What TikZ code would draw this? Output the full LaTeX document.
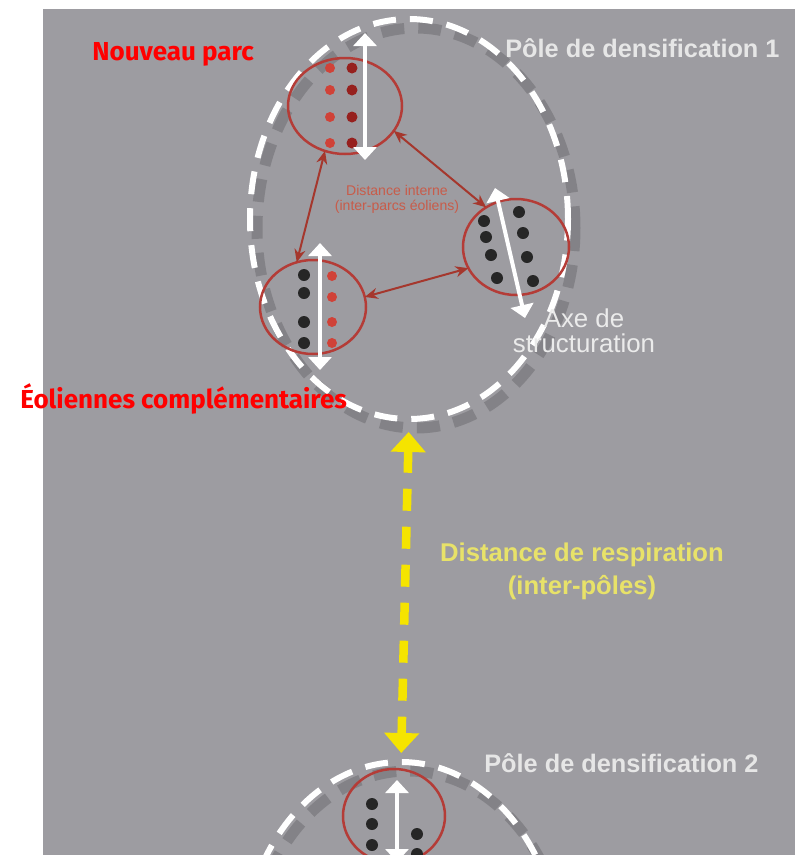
\documentclass[tikz,border=0pt]{standalone}
\usepackage{fontspec}
\setmainfont{Liberation Sans}
\newfontfamily\titrefont{Fira Sans}
\usetikzlibrary{shapes.geometric,arrows.meta}
\definecolor{fond}{RGB}{157,156,161}
\definecolor{rougeparc}{RGB}{180,60,55}
\definecolor{rougefleche}{RGB}{165,55,45}
\definecolor{rougepoint}{RGB}{208,66,56}
\definecolor{rougefonce}{RGB}{150,32,30}
\definecolor{rougedist}{RGB}{200,92,74}
\definecolor{jaune}{RGB}{245,228,0}
\definecolor{jaunetexte}{RGB}{232,226,105}
\definecolor{blanccasse}{RGB}{230,230,230}
\begin{document}
\begin{tikzpicture}[x=0.2mm,y=-0.2mm,
	pole/.style={ellipse,draw=white,line width=1.2mm,dash pattern=on 4.6mm off 2.8mm,
		minimum width=63.6mm,minimum height=80mm,inner sep=0pt,outer sep=0pt},
	ombre/.style={black,opacity=0.16,line width=2.2mm,dash pattern=on 4.6mm off 2.8mm},
	parc/.style={ellipse,draw=rougeparc,line width=0.5mm,minimum width=21.2mm,
		minimum height=19mm,inner sep=0pt,outer sep=0pt},
	liaison/.style={rougefleche,line width=0.4mm,
		{Stealth[length=2.6mm,width=2.2mm]}-{Stealth[length=2.6mm,width=2.2mm]}},
	axe/.style={white,line width=0.8mm,
		{Triangle[length=2.6mm,width=4.6mm]}-{Triangle[length=2.6mm,width=4.6mm]}},
	respiration/.style={jaune,line width=1.7mm,dash pattern=on 4.4mm off 3.2mm,
		shorten <=2.6mm,shorten >=1.8mm,
		{Triangle[length=4mm,width=6.8mm]}-{Triangle[length=4mm,width=6.8mm]}},
	titre/.style={text=red,font=\titrefont\bfseries\fontsize{14.8}{16}\selectfont,inner sep=0pt},
	nompole/.style={text=blanccasse,font=\bfseries\fontsize{14.4}{17}\selectfont,inner sep=0pt}]
	\useasboundingbox (0,0) rectangle (795,855);
	\clip (0,0) rectangle (795,855);
	%Fond
	\fill[white] (0,0) rectangle (795,855);
	\fill[fond] (43,9) rectangle (795,855);
	%Les deux pôles
	\draw[ombre] (416,228) ellipse [x radius=159,y radius=200];
	\draw[ombre] (408,971) ellipse [x radius=159,y radius=200];
	\node[pole] (pole1) at (409,219) {};
	\node[pole] (pole2) at (401,962) {};
	\draw[respiration] (pole1.south) -- (pole2.north);
	%Les parcs
	\node[parc,minimum width=22.8mm,minimum height=19.2mm] (parc1) at (345,106) {};
	\node[parc,minimum height=18.8mm] (parc2) at (313,307) {};
	\node[parc,minimum height=19.2mm] (parc3) at (516,247) {};
	\node[parc,minimum width=20.4mm,minimum height=18.8mm] (parc4) at (394,816) {};
	% Éoliennes
	\foreach \y in {68,90,117,143}{
		\fill[rougepoint] (330,\y) circle (5);
		\fill[rougefonce] (352,\y) circle (5.5);}
	\foreach \y in {275,293,322,343}
		\fill[black!85] (304,\y) circle (6);
	\foreach \y in {276,297,322,343}
		\fill[rougepoint] (332,\y) circle (5);
	\foreach \x/\y in {484/221,486/237,491/255,497/278,519/212,523/233,527/257,533/281}
		\fill[black!85] (\x,\y) circle (6);
	\foreach \x/\y in {372/804,372/824,372/845,417/834,417/854}
		\fill[black!85] (\x,\y) circle (6);
	%Textes
	\node[titre,anchor=base west] (nouveau) at (92,60) {Nouveau parc};
	\node[titre,anchor=base west] (complement) at (20,408) {Éoliennes complémentaires};
	\node[nompole,anchor=base west] (nom1) at (505,57) {Pôle de densification 1};
	\node[nompole,anchor=base west] (nom2) at (484,772) {Pôle de densification 2};
	\node[text=white!92!black,font=\fontsize{14.7}{14.5}\selectfont,align=center]
		(axe) at (584,331) {Axe de\\structuration};
	\node[text=rougedist,font=\fontsize{8}{8.5}\selectfont,align=center]
		(interne) at (397,199) {Distance interne\\(inter-parcs éoliens)};
	\node[text=jaunetexte,font=\bfseries\fontsize{14.6}{18.7}\selectfont,align=center]
		(respi) at (582,571) {Distance de respiration\\(inter-pôles)};
	% Axes de structuration
	\draw[axe] (365,160) -- (365,33);
	\draw[axe] (320,370) -- (320,243);
	\draw[axe] (525,318) -- (495,188);
	\draw[axe] (397,862) -- (397,780);
	% Distances internes
	\draw[liaison] (parc1.-27) -- (parc3.127);
	\draw[liaison] (parc1.-114) -- (parc2.110);
	\draw[liaison] (parc2.11) -- (parc3.204);
\end{tikzpicture}
\end{document}
